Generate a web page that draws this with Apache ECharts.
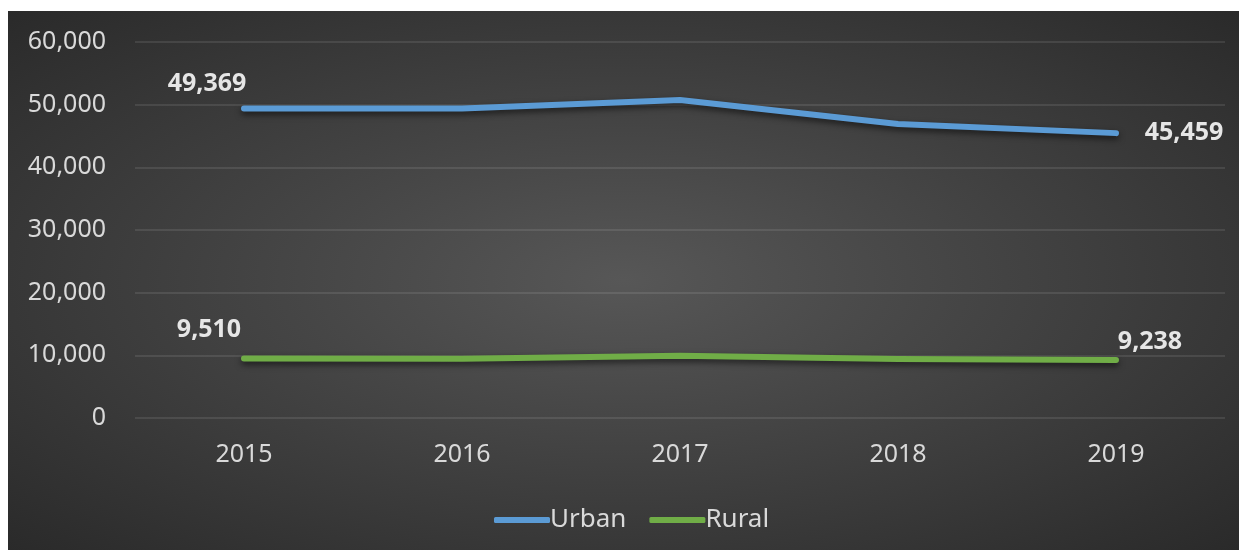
<!DOCTYPE html>
<html>
<head>
<meta charset="utf-8">
<script src="https://cdn.jsdelivr.net/npm/echarts@6/dist/echarts.min.js"></script>
<style>
  html, body { margin: 0; padding: 0; background: #ffffff; }
  #chart {
    position: absolute; left: 8px; top: 11px; width: 1231px; height: 539px;
    background: radial-gradient(ellipse farthest-corner at 50% 50%, #575757 0%, #474747 35%, #2a2a2a 100%);
  }
</style>
</head>
<body>
<div id="chart"></div>
<script>
// Yearly counts by area
const years = ['2015', '2016', '2017', '2018', '2019'];
const urban = [49369, 49400, 50750, 46900, 45459];
const rural = [9510, 9450, 9950, 9420, 9238];
const yTicks = [0, 10000, 20000, 30000, 40000, 50000, 60000];

const fontFamily = '"Noto Sans", "Open Sans", sans-serif';
const fmt = v => Number(v).toLocaleString('en-US');

// Only the first and last point of each line carry a value label
function withEndLabels(values, firstOffset, lastOffset) {
  return values.map((v, i) => {
    if (i === 0 || i === values.length - 1) {
      return {
        value: v,
        label: {
          show: true,
          position: 'inside',
          align: 'center',
          verticalAlign: 'middle',
          offset: i === 0 ? firstOffset : lastOffset,
          formatter: p => fmt(p.value),
          color: '#e6e6e6',
          fontSize: 25,
          fontWeight: 'bold',
          fontFamily: fontFamily
        }
      };
    }
    return v;
  });
}

const lineShadow = {
  shadowColor: 'rgba(0,0,0,0.6)',
  shadowBlur: 6,
  shadowOffsetY: 3
};

const chart = echarts.init(document.getElementById('chart'));
chart.setOption({
  backgroundColor: 'transparent',
  animation: false,
  grid: { left: 127, right: 14, top: 31, bottom: 132, containLabel: false },
  legend: {
    data: ['Urban', 'Rural'],
    left: 481,
    top: 491,
    icon: 'roundRect',
    itemWidth: 56,
    itemHeight: 6,
    itemGap: 23,
    textStyle: { color: '#d9d9d9', fontSize: 26, fontFamily: fontFamily, padding: [0, 0, 0, -5] }
  },
  xAxis: {
    type: 'category',
    data: years,
    boundaryGap: true,
    axisLine: { show: false },
    axisTick: { show: false },
    axisLabel: { color: '#d9d9d9', fontSize: 25, fontFamily: fontFamily, margin: 24 }
  },
  yAxis: {
    type: 'value',
    min: yTicks[0],
    max: yTicks[yTicks.length - 1],
    interval: yTicks[1] - yTicks[0],
    axisLine: { show: false },
    axisTick: { show: false },
    splitLine: { lineStyle: { color: 'rgba(255,255,255,0.13)', width: 1.5 } },
    axisLabel: { color: '#d9d9d9', fontSize: 25, fontFamily: fontFamily, margin: 29, formatter: v => fmt(v) }
  },
  series: [
    {
      name: 'Urban',
      type: 'line',
      data: withEndLabels(urban, [-37, -25], [68, 0]),
      symbol: 'circle',
      symbolSize: 1,
      showSymbol: true,
      itemStyle: { color: '#5B9BD5' },
      lineStyle: Object.assign({ color: '#5B9BD5', width: 6, cap: 'round', join: 'round' }, lineShadow)
    },
    {
      name: 'Rural',
      type: 'line',
      data: withEndLabels(rural, [-35, -29], [34, -18]),
      symbol: 'circle',
      symbolSize: 1,
      showSymbol: true,
      itemStyle: { color: '#70AD47' },
      lineStyle: Object.assign({ color: '#70AD47', width: 6, cap: 'round', join: 'round' }, lineShadow)
    }
  ]
});
</script>
</body>
</html>
